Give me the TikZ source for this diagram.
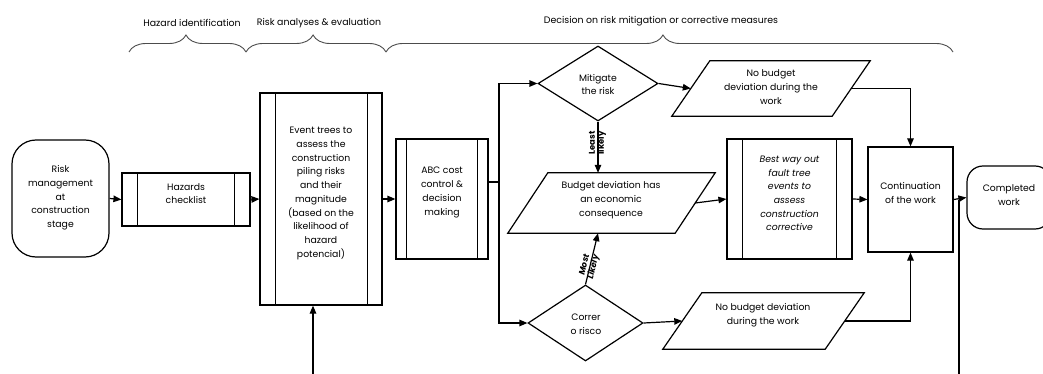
\documentclass[tikz,border=0pt]{standalone}
\usepackage{fontspec}
\setmainfont{Poppins}
\usetikzlibrary{arrows.meta,shapes.geometric,decorations.pathreplacing,calc}
\begin{document}
\begin{tikzpicture}[x=1pt,y=-1pt,
  shp/.style={draw, line width=1.2pt, inner sep=0pt},
  txt/.style={align=center, font=\fontsize{9.3}{13.7}\selectfont, inner sep=0pt},
  arr/.style={line width=1.2pt, -{Triangle[length=8pt,width=6.5pt]}},
  ln/.style={line width=1.2pt},
  brc/.style={decorate, decoration={brace, amplitude=17pt, aspect=#1}, line width=0.9pt, draw=black!70},
  hdr/.style={font=\fontsize{9.4}{11}\selectfont, inner sep=0pt},
  lbl/.style={align=center, font=\fontsize{8.4}{9}\selectfont\bfseries, inner sep=0pt}
]
\useasboundingbox (0,0) rectangle (1043,374);
\clip (0,0) rectangle (1043,374);

% headers and braces
\node[hdr] (h1) at (192,23) {Hazard identification};
\node[hdr] (h2) at (319,23) {Risk analyses \& evaluation};
\node[hdr] (h3) at (661,21) {Decision on risk mitigation or corrective measures};
\draw[brc=0.487] (129,52) -- (246,52);
\draw[brc=0.479] (246,52) -- (386,52);
\draw[brc=0.4885] (386,52) -- (953,52);

% start terminator
\node[shp, rounded corners=24pt, minimum width=97pt, minimum height=117pt] (st) at (60.5,198.5) {};
\node[txt] (stt) at (60.5,198) {Risk\\management\\at\\construction\\stage};

% hazards checklist
\node[shp, minimum width=128pt, minimum height=53pt] (hz) at (186,199.5) {};
\draw[ln] ([xshift=16pt]hz.north west) -- ([xshift=16pt]hz.south west);
\draw[ln] ([xshift=-16pt]hz.north east) -- ([xshift=-16pt]hz.south east);
\node[txt] (hzt) at (186,193.5) {Hazards\\checklist};

% event trees
\node[shp, minimum width=122pt, minimum height=212pt] (ev) at (321,199) {};
\draw[ln] ([xshift=16pt]ev.north west) -- ([xshift=16pt]ev.south west);
\draw[ln] ([xshift=-15pt]ev.north east) -- ([xshift=-15pt]ev.south east);
\node[txt] (evt) at (321,193.5) {Event trees to\\assess the\\construction\\piling risks\\and their\\magnitude\\(based on the\\likelihood of\\hazard\\potencial)};

% ABC cost
\node[shp, minimum width=92pt, minimum height=120pt] (abc) at (442,199) {};
\draw[ln] ([xshift=11pt]abc.north west) -- ([xshift=11pt]abc.south west);
\draw[ln] ([xshift=-11pt]abc.north east) -- ([xshift=-11pt]abc.south east);
\node[txt] (abct) at (442,192.5) {ABC cost\\control \&\\decision\\making};

% diamonds
\node[shp, diamond, aspect=1.6, minimum width=120pt, minimum height=75pt] (d1) at (598,83.5) {};
\node[txt] (d1t) at (598,84.5) {Mitigate\\the risk};
\node[shp, diamond, aspect=1.6, minimum width=115pt, minimum height=76pt] (d2) at (585.5,323) {};
\node[txt] (d2t) at (586,324) {Correr\\o risco};

% parallelograms (bounding nodes)
\node[inner sep=0pt, minimum width=198pt, minimum height=55pt] (p1) at (771,88.5) {};
\draw[ln] ([xshift=38pt]p1.north west) -- (p1.north east) -- ([xshift=-38pt]p1.south east) -- (p1.south west) -- cycle;
\node[txt] (p1t) at (771,87) {No budget\\deviation during the\\work};

\node[inner sep=0pt, minimum width=201pt, minimum height=56pt] (p2) at (763.5,321) {};
\draw[ln] ([xshift=39pt]p2.north west) -- (p2.north east) -- ([xshift=-39pt]p2.south east) -- (p2.south west) -- cycle;
\node[txt] (p2t) at (763,315) {No budget deviation\\during the work};

\node[inner sep=0pt, minimum width=207pt, minimum height=60pt] (bud) at (611.5,203) {};
\draw[ln] ([xshift=40pt]bud.north west) -- (bud.north east) -- ([xshift=-40pt]bud.south east) -- (bud.south west) -- cycle;
\node[txt] (budt) at (611,200) {Budget deviation has\\an economic\\consequence};

% best way out
\node[shp, minimum width=125pt, minimum height=120pt] (best) at (789.5,199) {};
\draw[ln] ([xshift=16pt]best.north west) -- ([xshift=16pt]best.south west);
\draw[ln] ([xshift=-16pt]best.north east) -- ([xshift=-16pt]best.south east);
\node[txt, font=\fontsize{9.3}{13.7}\selectfont\itshape] (bestt) at (789.5,193.5) {Best way out\\fault tree\\events to\\assess\\construction\\corrective};

% continuation
\node[shp, minimum width=85pt, minimum height=105pt] (cont) at (910.5,199.5) {};
\node[txt] (contt) at (910.5,193) {Continuation\\of the work};

% completed
\node[shp, rounded corners=16pt, minimum width=84pt, minimum height=63pt] (comp) at (1009,197.5) {};
\node[txt] (compt) at (1009,195) {Completed\\work};

% connectors
\coordinate (bot1) at (313,374);
\coordinate (bot2) at (959,374);
\coordinate (j) at (499,182);
\draw[arr] (st.east) -- (hz.west);
\draw[arr] (hz.east) -- (ev.west);
\draw[arr] (bot1) -- (bot1 |- ev.south);
\draw[arr] (ev.east) -- (abc.west);
\draw[ln] ([yshift=17pt]abc.east) -- (j);
\draw[arr] (j) |- (d1.west);
\draw[arr] (j) |- (d2.west);
\draw[arr] (d1.east) -- ([xshift=19pt]p1.west);
\draw[arr] ([xshift=-19pt]p1.east) -| (cont.north);
\draw[arr] (d1.south) -- (d1.south |- bud.north);
\node[lbl, rotate=90] (ll) at (597.5,143) {Least\\likely};
\draw[arr] (d2.north) -- ([xshift=-13.5pt]bud.south);
\node[lbl, rotate=76.5, font=\fontsize{8.4}{9}\selectfont\bfseries\itshape] (ml) at (589.5,266) {Most\\Likely};
\draw[arr] ([xshift=-20pt]bud.east) -- (best.west);
\draw[arr] (best.east) -- (cont.west);
\draw[arr] (d2.east) -- ([xshift=19.5pt]p2.west);
\draw[arr] ([xshift=-19.5pt]p2.east) -| (cont.south);
\draw[arr] (cont.east) -- (comp.west);
\draw[ln] (bot2) -- (bot2 |- cont.east);
\end{tikzpicture}
\end{document}
